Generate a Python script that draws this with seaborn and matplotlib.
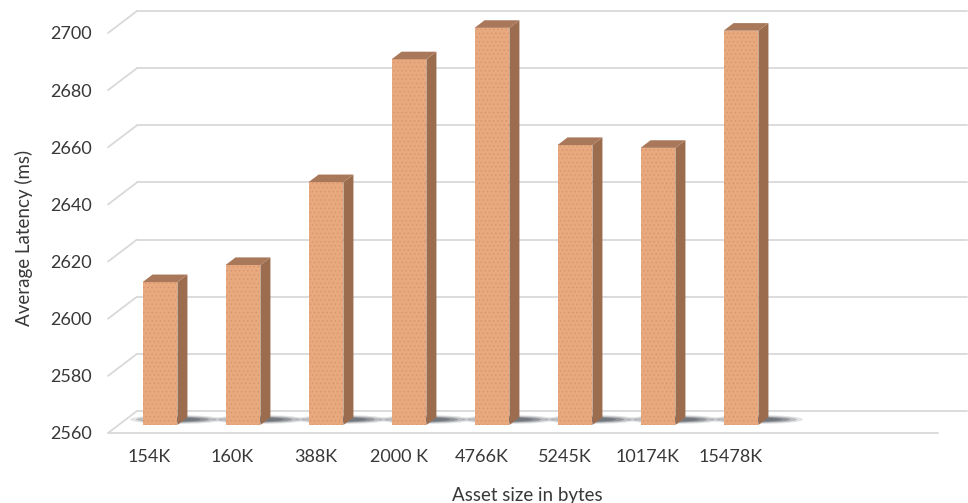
import matplotlib
matplotlib.use("Agg")
import matplotlib.pyplot as plt
import numpy as np
import pandas as pd
import seaborn as sns
from matplotlib.transforms import ScaledTranslation, IdentityTransform
from matplotlib.patches import Polygon, Ellipse
from matplotlib.lines import Line2D

# ---- data ----
sizes = ["154K", "160K", "388K", "2000 K", "4766K", "5245K", "10174K", "15478K"]
latency = [2610, 2616, 2645, 2688, 2699, 2658, 2657, 2698]
y_ticks = [2560, 2580, 2600, 2620, 2640, 2660, 2680, 2700]

# ---- style ----
sns.set_theme(style="white")
plt.rcParams["font.family"] = ["Lato", "DejaVu Sans"]
plt.rcParams["hatch.linewidth"] = 0.5

FRONT = "#e8a97f"
DOTS = "#d9956b"
TOP = "#a9785a"
SIDE = "#9c6c4f"
GRID = "#d9d9d9"
TEXT = "#383838"

W, H, DPI = 968, 503, 100
fig = plt.figure(figsize=(W / DPI, H / DPI), dpi=DPI)

# axes = plane of the column front faces
ax = fig.add_axes([118.5 / W, 78 / H, 830 / W, 400 / H])
df = pd.DataFrame({"size": sizes, "latency": latency})
sns.barplot(data=df, x="size", y="latency", ax=ax, color=FRONT,
            saturation=1, width=0.42, zorder=3)
ax.set_xlim(-0.5, 9.5)
ax.set_ylim(y_ticks[0], y_ticks[-1])
ax.set_yticks(y_ticks)
for s in ax.spines.values():
    s.set_visible(False)
ax.set_facecolor("none")

# perspective offsets (pixels) relative to the column front plane
FRONT_OFF = (-10.5, -8.0)     # front edge of the floor
BACK_OFF = (18.5, 14.0)       # back wall
DEPTH = (10.0, 7.6)           # column depth


def px(dx, dy):
    return ScaledTranslation(dx / DPI, dy / DPI, fig.dpi_scale_trans)


back_tr = ax.transData + px(*BACK_OFF)
front_tr = ax.transData + px(*FRONT_OFF)

# back wall gridlines
for v in y_ticks:
    ax.add_line(Line2D([-0.5, 9.5], [v, v], transform=back_tr, color=GRID,
                       lw=1.3, clip_on=False, zorder=0))
    # side wall lines
    p = ax.transData.transform((-0.5, v))
    ax.add_line(Line2D([p[0] + FRONT_OFF[0], p[0] + BACK_OFF[0]],
                       [p[1] + FRONT_OFF[1], p[1] + BACK_OFF[1]],
                       transform=IdentityTransform(), color=GRID, lw=1.3,
                       clip_on=False, zorder=0))

# front edge of the floor
ax.add_line(Line2D([-0.5, 9.5], [y_ticks[0]] * 2, transform=front_tr,
                   color=GRID, lw=1.3, clip_on=False, zorder=0))

# 3D columns: texture on the front, top and side faces, floor shadow
for patch in ax.patches[:len(latency)]:
    patch.set_hatch("....")
    patch.set_edgecolor(DOTS)
    patch.set_linewidth(0)
    x0, x1 = patch.get_x(), patch.get_x() + patch.get_width()
    top = patch.get_y() + patch.get_height()
    (a0, b0) = ax.transData.transform((x0, y_ticks[0]))
    (a1, b1) = ax.transData.transform((x1, top))
    dx, dy = DEPTH
    side = Polygon([(a1, b0), (a1 + dx, b0 + dy), (a1 + dx, b1 + dy), (a1, b1)],
                   closed=True, transform=IdentityTransform(), facecolor=SIDE,
                   edgecolor="none", clip_on=False, zorder=3)
    lid = Polygon([(a0, b1), (a1, b1), (a1 + dx, b1 + dy), (a0 + dx, b1 + dy)],
                  closed=True, transform=IdentityTransform(), facecolor=TOP,
                  edgecolor="none", clip_on=False, zorder=3)
    fig.add_artist(side)
    fig.add_artist(lid)
    cx = (a0 + a1) / 2 + 16
    cy = b0 + 5.5
    for w, h, al in [(92, 9, 0.15), (80, 7, 0.25), (66, 5.5, 0.35), (50, 4, 0.4)]:
        sh = Ellipse((cx, cy), w, h, transform=IdentityTransform(),
                     facecolor="#454b55", edgecolor="none", alpha=al,
                     clip_on=False, zorder=1)
        ax.add_artist(sh)

# ticks
ax.tick_params(axis="both", length=0, pad=11.5, labelsize=13,
               labelcolor=TEXT)
for lab in ax.get_yticklabels() + ax.get_xticklabels():
    lab.set_transform(lab.get_transform() + px(*FRONT_OFF))

# axis titles
ax.set_xlabel("Asset size in bytes", fontsize=13.5, color=TEXT)
ax.xaxis.set_label_coords((527 - 118.5) / 830, -(495 - 425) / 400)
ax.xaxis.label.set_va("center")
ax.set_ylabel("Average Latency (ms)", fontsize=13.5, color=TEXT)
ax.yaxis.set_label_coords((24 - 118.5) / 830, (425 - 238) / 400)
ax.yaxis.label.set_va("center")

fig.savefig("out.png", dpi=DPI, facecolor="white")
